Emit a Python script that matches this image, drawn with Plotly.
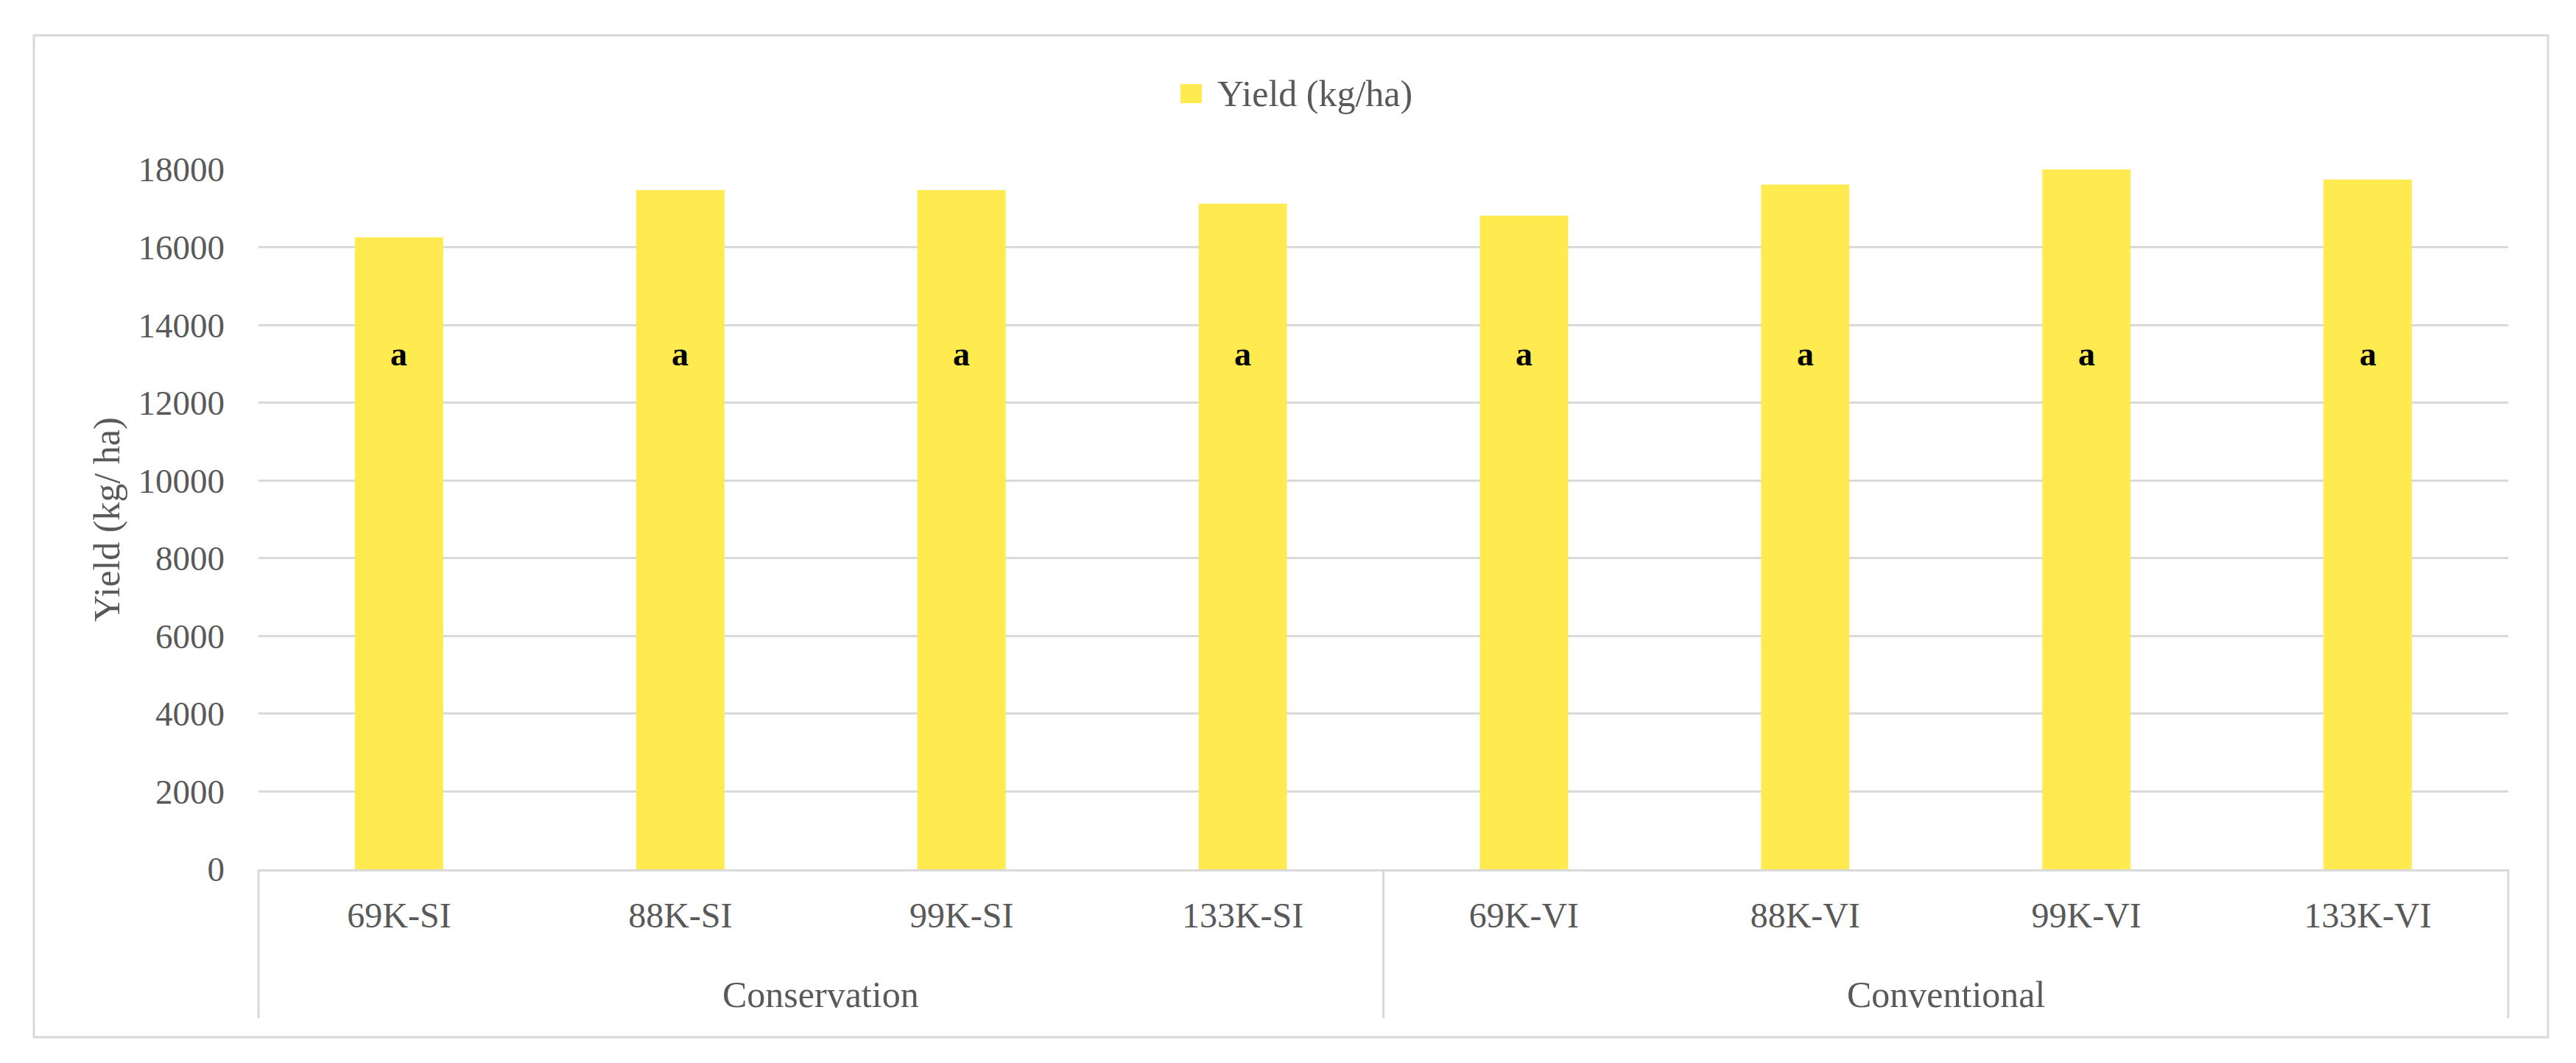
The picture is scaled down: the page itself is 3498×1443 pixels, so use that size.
import plotly.graph_objects as go

# ---------------- data ----------------
categories = ["69K-SI", "88K-SI", "99K-SI", "133K-SI", "69K-VI", "88K-VI", "99K-VI", "133K-VI"]
groups = ["Conservation", "Conventional"]
group_sizes = [4, 4]
yield_values = [16250, 17470, 17470, 17120, 16810, 17610, 18040, 17740]
letters = ["a", "a", "a", "a", "a", "a", "a", "a"]
series_name = "Yield (kg/ha)"
y_title = "Yield (kg/ ha)"
y_ticks = [0, 2000, 4000, 6000, 8000, 10000, 12000, 14000, 16000, 18000]
LETTER_Y = 13250

# ---------------- layout geometry (pixels) ----------------
W, H = 3498, 1443
L, R, T, B = 343, 3398, 222, 1172
PW, PH = R - L, B - T

def px(x):
    return (x - L) / PW

def py(y):
    return (B - y) / PH

FONT = "Palatino Linotype, Book Antiqua, Palatino, Liberation Serif, serif"
GRAY = "#595959"
LINE = "#d9d9d9"
BAR = "#FFEB4F"

x_idx = list(range(len(categories)))

fig = go.Figure()
fig.add_trace(go.Bar(
    x=x_idx, y=yield_values, name=series_name,
    marker=dict(color=BAR, line=dict(width=0)),
    width=0.314, showlegend=False,
))

annotations = []
for i, t in enumerate(letters):
    annotations.append(dict(x=x_idx[i], y=LETTER_Y, xref="x", yref="y", text="<b>" + t + "</b>",
                            showarrow=False, font=dict(family=FONT, size=46, color="#000000"),
                            xanchor="center", yanchor="middle"))

# group labels and dividers
shapes = []
start = 0
n = len(categories)
shapes.append(dict(type="line", xref="paper", yref="paper", x0=0, x1=0, y0=0, y1=py(1374),
                   line=dict(color=LINE, width=3)))
for g, size in zip(groups, group_sizes):
    end = start + size
    x_left = start / n
    x_right = end / n
    annotations.append(dict(x=(x_left + x_right) / 2, y=py(1342), xref="paper", yref="paper",
                            text=g, showarrow=False, font=dict(family=FONT, size=50, color=GRAY),
                            xanchor="center", yanchor="middle"))
    shapes.append(dict(type="line", xref="paper", yref="paper", x0=x_right, x1=x_right, y0=0, y1=py(1374),
                       line=dict(color=LINE, width=3)))
    start = end

# y-axis title
annotations.append(dict(x=px(137), y=py(697), xref="paper", yref="paper", text=y_title,
                        textangle=-90, showarrow=False, font=dict(family=FONT, size=50, color=GRAY),
                        xanchor="center", yanchor="middle"))

# manual legend
shapes.append(dict(type="rect", xref="paper", yref="paper", x0=px(1595), x1=px(1624), y0=py(132), y1=py(106),
                   fillcolor=BAR, line=dict(width=0)))
annotations.append(dict(x=px(1643), y=py(119), xref="paper", yref="paper", text=series_name,
                        showarrow=False, font=dict(family=FONT, size=50, color=GRAY),
                        xanchor="left", yanchor="middle"))

# outer chart border
shapes.append(dict(type="rect", xref="paper", yref="paper", x0=px(38), x1=px(3452), y0=py(1400), y1=py(40),
                   line=dict(color=LINE, width=3), fillcolor="rgba(0,0,0,0)", layer="below"))

fig.update_layout(
    width=W, height=H,
    margin=dict(l=L, r=W - R, t=T, b=H - B, autoexpand=False),
    paper_bgcolor="white", plot_bgcolor="white",
    showlegend=False,
    annotations=annotations, shapes=shapes,
    bargap=0.686,
    xaxis=dict(range=[-0.5, n - 0.5], tickmode="array", tickvals=x_idx, ticktext=categories,
               showgrid=False, zeroline=False, showline=True, linecolor=LINE, linewidth=3,
               ticks="", ticklabelstandoff=18,
               tickfont=dict(family=FONT, size=48, color=GRAY), fixedrange=True),
    yaxis=dict(range=[0, 18000], tickmode="array", tickvals=y_ticks,
               ticktext=[str(v) for v in y_ticks],
               showgrid=True, gridcolor=LINE, gridwidth=3, zeroline=False, showline=False,
               ticks="", ticklabelstandoff=45,
               tickfont=dict(family=FONT, size=47, color=GRAY), fixedrange=True),
)

fig.write_html("out.html")
